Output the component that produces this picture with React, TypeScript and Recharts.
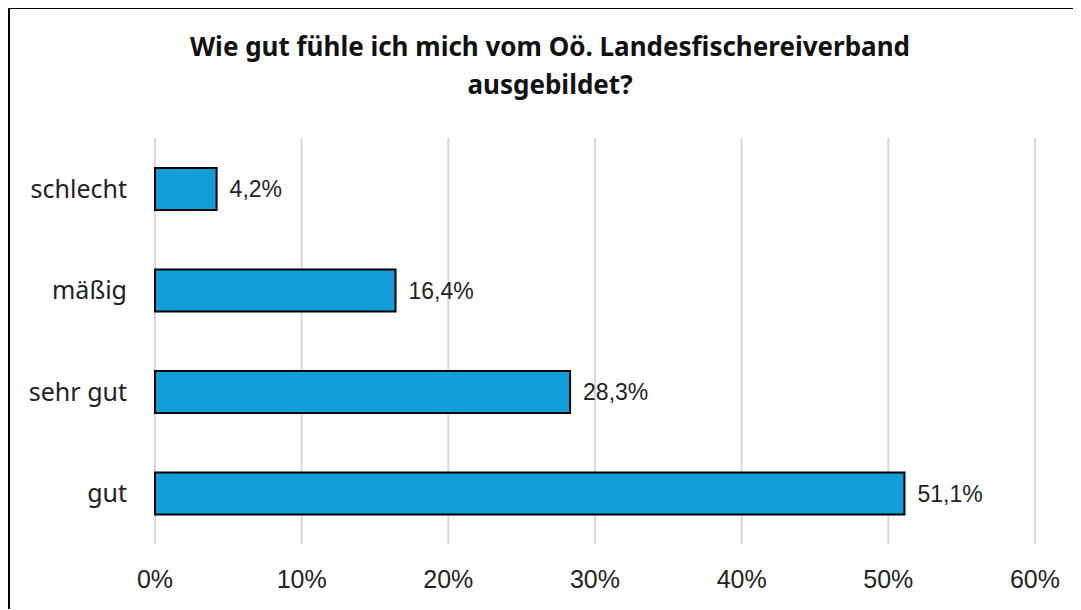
import { BarChart, Bar, XAxis, YAxis, CartesianGrid, LabelList } from "recharts";

const categories = ["schlecht", "mäßig", "sehr gut", "gut"];
const shares = [4.2, 16.4, 28.3, 51.1];
const xTicks = [0, 10, 20, 30, 40, 50, 60];

const data = categories.map((name, i) => ({ name, value: shares[i] }));

const fmt = (v: number) => `${v.toFixed(1).replace(".", ",")}%`;

export default function App() {
  return (
    <div
      style={{
        position: "relative",
        width: 1071,
        height: 600,
        borderTop: "2px solid #000",
        borderLeft: "2px solid #000",
        background: "#fff",
        marginTop: -1,
      }}
    >
      <div
        style={{
          position: "absolute",
          left: 0,
          top: 18,
          width: 1080,
          textAlign: "center",
          fontFamily: "'Noto Sans', sans-serif",
          fontWeight: 700,
          fontSize: 26,
          lineHeight: "38px",
          color: "#111",
        }}
      >
        Wie gut fühle ich mich vom Oö. Landesfischereiverband
        <br />
        ausgebildet?
      </div>
      <BarChart
        width={1071}
        height={600}
        layout="vertical"
        data={data}
        margin={{ top: 129, right: 46, bottom: 25, left: 0 }}
        barCategoryGap={29}
      >
        <CartesianGrid horizontal={false} stroke="#d9d9d9" strokeWidth={2} />
        <XAxis
          type="number"
          domain={[0, 60]}
          ticks={xTicks}
          tickFormatter={(v: number) => `${v}%`}
          axisLine={false}
          tickLine={false}
          tickSize={0}
          tickMargin={26}
          height={40}
          tick={{ fill: "#222", fontSize: 25, fontFamily: "'Liberation Sans', Arial, sans-serif" }}
          interval={0}
        />
        <YAxis
          type="category"
          dataKey="name"
          width={145}
          axisLine={false}
          tickLine={false}
          tickSize={0}
          tickMargin={28}
          tick={{ fill: "#222", fontSize: 25, fontFamily: "'Noto Sans', sans-serif" }}
        />
        <Bar
          dataKey="value"
          fill="#129ed8"
          stroke="#000"
          strokeWidth={2}
          barSize={42}
          isAnimationActive={false}
        >
          <LabelList
            dataKey="value"
            position="right"
            offset={13}
            formatter={(v: number) => fmt(v)}
            style={{ fill: "#222", fontSize: 23, fontFamily: "'Liberation Sans', Arial, sans-serif" }}
          />
        </Bar>
      </BarChart>
    </div>
  );
}
